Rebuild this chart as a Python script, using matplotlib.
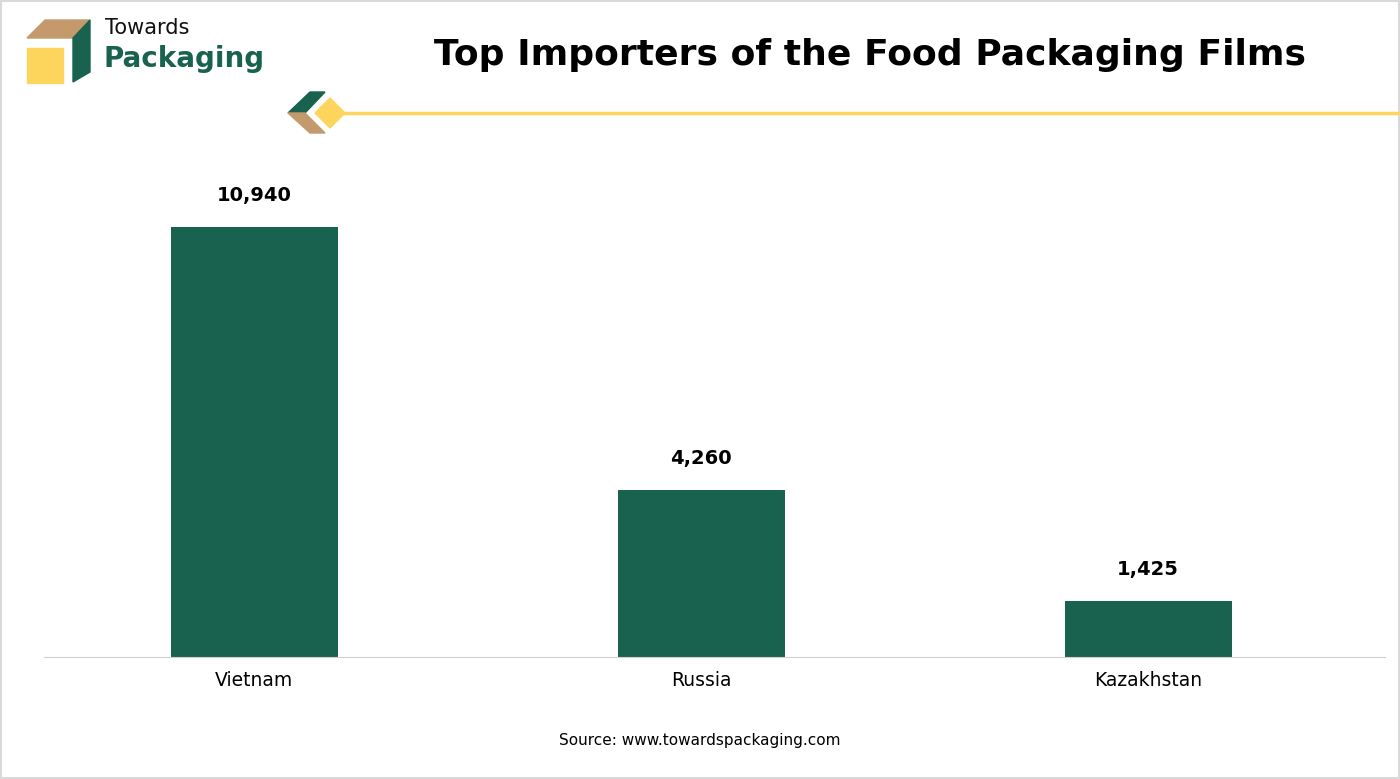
import matplotlib
matplotlib.use("Agg")
import matplotlib.pyplot as plt
from matplotlib.patches import Polygon, Rectangle

categories = ["Vietnam", "Russia", "Kazakhstan"]
values = [10940, 4260, 1425]
labels = ["10,940", "4,260", "1,425"]

W, H = 1400, 779
fig = plt.figure(figsize=(14, 7.79), dpi=100)
fig.patch.set_facecolor("white")

def fx(px): return px / W
def fy(py): return 1 - py / H

green = "#18624F"
ax = fig.add_axes([fx(44), fy(657), fx(1385 - 44), (657 - 160) / H])
ax.bar(range(3), values, width=0.374, color=green)
ax.set_xlim(-0.47, 2.53)
ax.set_ylim(0, 10940 * 497 / 430)
for i, (v, l) in enumerate(zip(values, labels)):
    ax.text(i, v + 10940 * 22 / 430, l, ha="center", va="bottom", fontsize=14, fontweight="bold")
ax.set_xticks(range(3))
ax.set_xticklabels(categories, fontsize=13.5)
ax.tick_params(axis="x", length=0, pad=10)
ax.set_yticks([])
for s in ["top", "right", "left"]:
    ax.spines[s].set_visible(False)
ax.spines["bottom"].set_color("#d0d0d0")

fig.text(fx(870), fy(55), "Top Importers of the Food Packaging Films", ha="center", va="center",
         fontsize=26, fontweight="bold")
fig.text(fx(700), fy(741), "Source: www.towardspackaging.com", ha="center", va="center", fontsize=11)

ov = fig.add_axes([0, 0, 1, 1], zorder=-1)
ov.set_xlim(0, W); ov.set_ylim(H, 0); ov.axis("off")
ov.add_patch(Rectangle((1, 1), W - 2, H - 2, fill=False, ec="#d9d9d9", lw=1.5))
tan = "#C49A6C"; yel = "#FDD55C"
ov.add_patch(Polygon([(27, 38), (45, 20), (90, 20), (73, 38)], color=tan))
ov.add_patch(Polygon([(73, 38), (90, 20), (90, 72), (73, 82)], color=green))
ov.add_patch(Rectangle((27, 48), 36, 35, color=yel))
ov.text(105, 28, "Towards", fontsize=15, va="center", ha="left", color="#111111")
ov.text(104, 59, "Packaging", fontsize=20, fontweight="bold", va="center", ha="left", color=green)
ov.add_patch(Polygon([(288, 113), (310, 92), (325, 92), (305, 113)], color=green))
ov.add_patch(Polygon([(288, 113), (305, 113), (325, 133), (310, 133)], color=tan))
ov.add_patch(Polygon([(315, 113), (330, 98), (345, 113), (330, 128)], color=yel))
ov.plot([343, 1400], [113, 113], color=yel, lw=2.5)

fig.savefig("out.png", dpi=100)
